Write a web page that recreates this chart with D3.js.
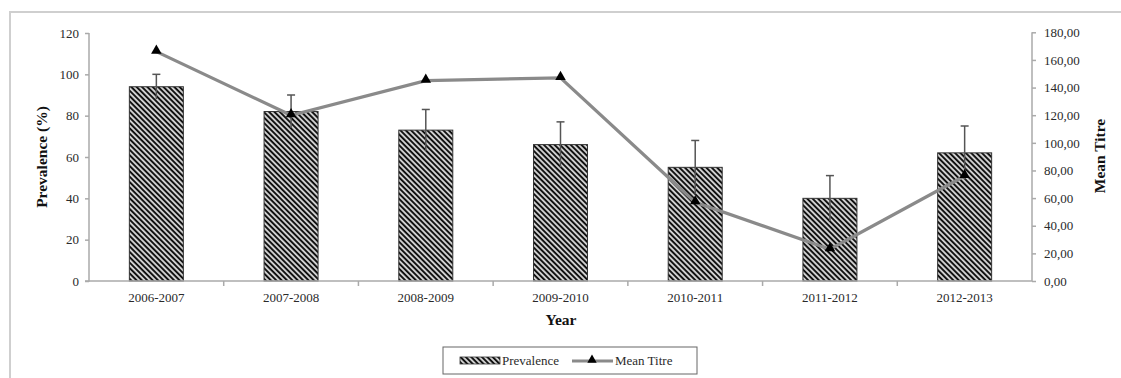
<!DOCTYPE html>
<html><head><meta charset="utf-8">
<script src="https://cdn.jsdelivr.net/npm/d3@7"></script>
<style>body{margin:0;background:#fff}svg{display:block}</style>
</head><body>
<script>
const categories = ["2006-2007","2007-2008","2008-2009","2009-2010","2010-2011","2011-2012","2012-2013"];
const prevalence = [94, 82, 73, 66, 55, 40, 62];
const prevalenceErr = [6, 8, 10, 11, 13, 11, 13];
const meanTitre = [166, 120, 145, 147, 57, 23, 76];
const leftTicks = [0,20,40,60,80,100,120];
const rightTicks = [0,20,40,60,80,100,120,140,160,180];

const W=1121,H=378;
const svg=d3.select("body").append("svg").attr("width",W).attr("height",H);
const font="'Liberation Serif', 'Times New Roman', serif";

const defs=svg.append("defs");
const pat=defs.append("pattern").attr("id","hatch").attr("patternUnits","userSpaceOnUse")
 .attr("width",3.8).attr("height",4).attr("patternTransform","rotate(-45)");
pat.append("rect").attr("width",3.8).attr("height",4).attr("fill","#cfcfcf");
pat.append("rect").attr("width",1.9).attr("height",4).attr("fill","#111");

// outer border
svg.append("rect").attr("x",10).attr("y",12).attr("width",1200).attr("height",400)
 .attr("fill","none").attr("stroke","#cfcfcf").attr("stroke-width",2);

const L=89,R=1032,T=33,B=281;
const xb=d3.scaleBand().domain(categories).range([L,R]);
const yL=d3.scaleLinear().domain([0,120]).range([B,T]);
const yR=d3.scaleLinear().domain([0,180]).range([B,32.3]);
const cx=c=>xb(c)+xb.bandwidth()/2;

// bars
svg.append("g").selectAll("rect").data(categories).join("rect")
 .attr("x",d=>cx(d)-27).attr("width",54)
 .attr("y",(d,i)=>yL(prevalence[i])).attr("height",(d,i)=>B-yL(prevalence[i]))
 .attr("fill","url(#hatch)").attr("stroke","#333").attr("stroke-width",1);

// error bars
const eg=svg.append("g").attr("stroke","#555").attr("stroke-width",1.5);
categories.forEach((c,i)=>{
  const x0=cx(c);
  eg.append("line").attr("x1",x0).attr("x2",x0).attr("y1",yL(prevalence[i]-prevalenceErr[i])).attr("y2",yL(prevalence[i]+prevalenceErr[i]));
  eg.append("line").attr("x1",x0-4).attr("x2",x0+4).attr("y1",yL(prevalence[i]+prevalenceErr[i])).attr("y2",yL(prevalence[i]+prevalenceErr[i]));
});

// axes
const axL=svg.append("g").attr("transform",`translate(${L},0)`)
 .call(d3.axisLeft(yL).tickValues(leftTicks).tickSize(4).tickPadding(6));
const axR=svg.append("g").attr("transform",`translate(${R},0)`)
 .call(d3.axisRight(yR).tickValues(rightTicks).tickSize(4).tickPadding(8).tickFormat(d=>d3.format(".2f")(d).replace(".",",")));
const axB=svg.append("g").attr("transform",`translate(0,${B})`)
 .call(d3.axisBottom(xb).tickSize(0).tickPadding(12));
svg.append("g").selectAll("line").data(categories.slice(1)).join("line")
 .attr("x1",d=>xb(d)).attr("x2",d=>xb(d)).attr("y1",B).attr("y2",B+5).attr("stroke","#aaa").attr("stroke-width",1.5);
[axL,axR,axB].forEach(a=>{
  a.selectAll(".domain").attr("stroke","#aaa").attr("stroke-width",1.5);
  a.selectAll(".tick line").attr("stroke","#aaa").attr("stroke-width",1.5);
  a.selectAll("text").attr("font-family",font).attr("font-size",13).attr("fill","#2a2a2a");
});
axL.select(".domain").attr("d",`M-4,${B}H0V${T}`);
axR.select(".domain").attr("d",`M0,${B}V${32.3}`);
axB.select(".domain").attr("d",`M${L},0H${R}`);

// line
const line=d3.line().x((d,i)=>cx(categories[i])).y(d=>yR(d));
svg.append("path").datum(meanTitre).attr("d",line).attr("fill","none").attr("stroke","#8a8a8a").attr("stroke-width",3.2);
const tri=d3.symbol().type(d3.symbolTriangle).size(48);
svg.append("g").selectAll("path").data(meanTitre).join("path")
 .attr("d",tri).attr("transform",(d,i)=>`translate(${cx(categories[i])},${yR(d)-1})`).attr("fill","#000");

// titles
svg.append("text").attr("transform",`translate(47,157) rotate(-90)`).attr("text-anchor","middle")
 .attr("font-family",font).attr("font-weight","bold").attr("font-size",15.5).attr("fill","#111").text("Prevalence (%)");
svg.append("text").attr("transform",`translate(1105,156) rotate(-90)`).attr("text-anchor","middle")
 .attr("font-family",font).attr("font-weight","bold").attr("font-size",15.5).attr("fill","#111").text("Mean Titre");
svg.append("text").attr("x",561).attr("y",325).attr("text-anchor","middle")
 .attr("font-family",font).attr("font-weight","bold").attr("font-size",15.5).attr("fill","#111").text("Year");

// legend
const lg=svg.append("g");
lg.append("rect").attr("x",443).attr("y",347).attr("width",254).attr("height",27).attr("fill","#fff").attr("stroke","#666").attr("stroke-width",1);
lg.append("rect").attr("x",460).attr("y",357).attr("width",40).attr("height",7).attr("fill","url(#hatch)").attr("stroke","#333").attr("stroke-width",0.8);
lg.append("text").attr("x",502).attr("y",365).attr("font-family",font).attr("font-size",13).attr("fill","#2a2a2a").text("Prevalence");
lg.append("line").attr("x1",572).attr("x2",613).attr("y1",361).attr("y2",361).attr("stroke","#8a8a8a").attr("stroke-width",3);
lg.append("path").attr("d",d3.symbol().type(d3.symbolTriangle).size(38)).attr("transform","translate(592,360)").attr("fill","#000");
lg.append("text").attr("x",615).attr("y",365).attr("font-family",font).attr("font-size",13).attr("fill","#2a2a2a").text("Mean Titre");
</script>
</body></html>
